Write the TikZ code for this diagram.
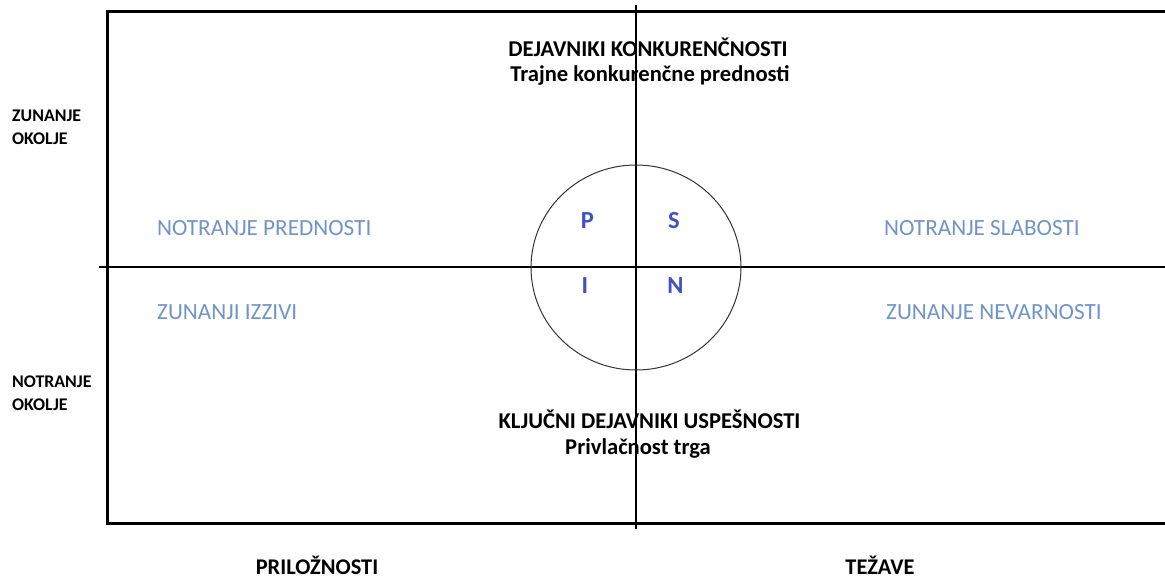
\documentclass[tikz,border=0pt]{standalone}
\usepackage{fontspec}
\setmainfont{Carlito}
\definecolor{labelblue}{RGB}{112,148,202}
\definecolor{letterblue}{RGB}{64,80,200}
\tikzset{
  frame/.style={line width=3pt, draw=black},
  axis/.style={line width=1.1pt, draw=black},
  heading/.style={font=\fontsize{22.6}{26}\selectfont\bfseries, inner sep=0pt, align=center},
  quadlabel/.style={font=\fontsize{23.2}{26}\selectfont, text=labelblue, inner sep=0pt, anchor=west},
  letter/.style={font=\fontsize{24.5}{28}\selectfont\bfseries, text=letterblue, inner sep=0pt},
  sidelabel/.style={font=\fontsize{17.8}{23}\selectfont\bfseries, inner sep=0pt, align=left, anchor=west},
  footlabel/.style={font=\fontsize{22.4}{26}\selectfont\bfseries, inner sep=0pt, anchor=base},
}
\begin{document}
\begin{tikzpicture}[x=1pt, y=-1pt]
  \useasboundingbox (0,0) rectangle (1165,578);
  % frame (open on the right)
  \coordinate (ftr) at (1170,11.5);
  \coordinate (ftl) at (107,11.5);
  \coordinate (fbl) at (107,523);
  \coordinate (fbr) at (1170,523);
  \draw[frame] (ftr) -- (ftl) -- (fbl) -- (fbr);
  % axes
  \coordinate (vtop) at (636,5);
  \coordinate (vbot) at (636,529);
  \coordinate (hleft) at (99,267);
  \coordinate (hright) at (1166,267);
  \draw[axis] (vtop) -- (vbot);
  \draw[axis] (hleft) -- (hright);
  % central circle
  \coordinate (c) at (636,267.5);
  \draw[line width=1pt, draw=black!80] (c) ellipse [x radius=105, y radius=102.5];
  % headings
  \node[heading] (top1) at (648,47) {DEJAVNIKI KONKURENČNOSTI};
  \node[heading] (top2) at (650,75) {Trajne konkurenčne prednosti};
  \node[heading] (bot1) at (649.5,419) {KLJUČNI DEJAVNIKI USPEŠNOSTI};
  \node[heading] (bot2) at (638,448) {Privlačnost trga};
  % quadrant labels
  \node[quadlabel] (np) at (157,228) {NOTRANJE PREDNOSTI};
  \node[quadlabel] (zi) at (157,312) {ZUNANJI IZZIVI};
  \node[quadlabel] (ns) at (884,228) {NOTRANJE SLABOSTI};
  \node[quadlabel] (zn) at (886,312) {ZUNANJE NEVARNOSTI};
  % letters inside the circle
  \node[letter] (P) at (587.5,221) {P};
  \node[letter] (S) at (674,221) {S};
  \node[letter] (I) at (585,285.5) {I};
  \node[letter] (N) at (675.5,285.5) {N};
  % side labels
  \node[sidelabel] (zo) at (12,127) {ZUNANJE\\OKOLJE};
  \node[sidelabel] (no) at (12,393) {NOTRANJE\\OKOLJE};
  % bottom labels
  \node[footlabel] (pr) at (317,574.5) {PRILOŽNOSTI};
  \node[footlabel] (te) at (880,574.5) {TEŽAVE};
\end{tikzpicture}
\end{document}
